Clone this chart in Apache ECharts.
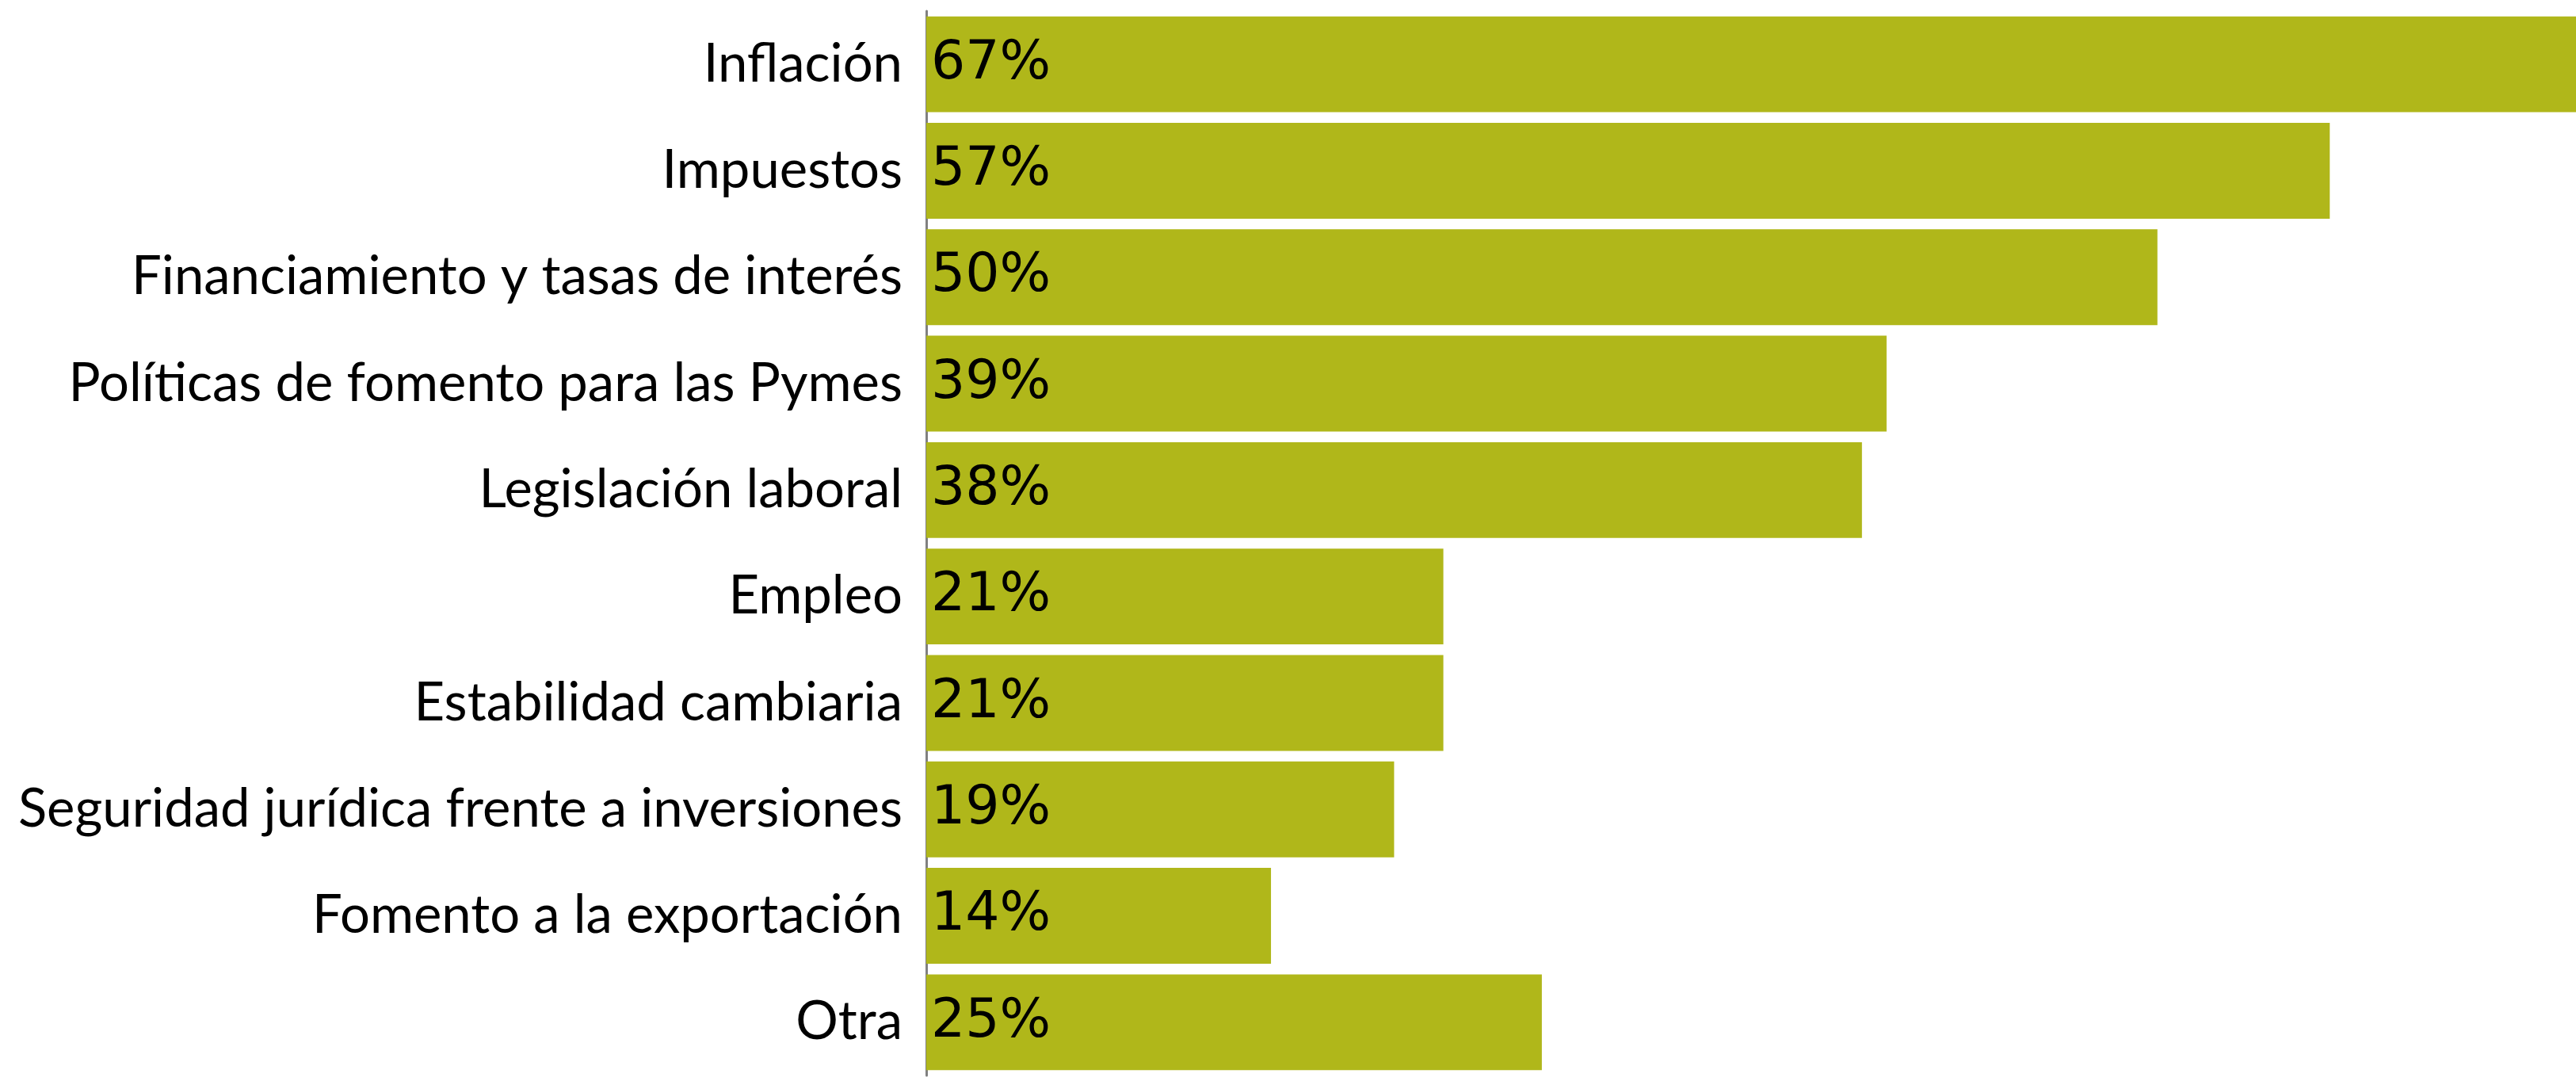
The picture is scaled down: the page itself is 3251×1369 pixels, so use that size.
<!DOCTYPE html>
<html>
<head>
<meta charset="utf-8">
<title>Chart</title>
<script src="https://cdn.jsdelivr.net/npm/echarts@6/dist/echarts.min.js"></script>
<style>
  html, body { margin: 0; padding: 0; background: #fff; }
  #chart { width: 3251px; height: 1369px; }
</style>
</head>
<body>
<div id="chart"></div>
<script>
var categories = [
    'Inflación',
    'Impuestos',
    'Financiamiento y tasas de interés',
    'Políticas de fomento para las Pymes',
    'Legislación laboral',
    'Empleo',
    'Estabilidad cambiaria',
    'Seguridad jurídica frente a inversiones',
    'Fomento a la exportación',
    'Otra'
];
var values = [67, 57, 50, 39, 38, 21, 21, 19, 14, 25];

var option = {
    animation: false,
    grid: {
        left: 1169,
        right: 0,
        top: 14,
        bottom: 12
    },
    xAxis: {
        type: 'value',
        min: 0,
        max: 67,
        show: false
    },
    yAxis: {
        type: 'category',
        inverse: true,
        data: categories,
        axisLine: { show: true, lineStyle: { color: '#808080', width: 3 } },
        axisTick: { show: false },
        axisLabel: {
            color: '#000',
            fontFamily: 'Lato',
            fontSize: 67,
            margin: 30
        }
    },
    series: [
        {
            type: 'bar',
            data: values,
            barCategoryGap: '10%',
            itemStyle: { color: '#B0B71A' },
            label: {
                show: true,
                position: 'insideLeft',
                distance: 6,
                formatter: '{c}%',
                color: '#000',
                fontFamily: 'DejaVu Sans',
                fontSize: 68
            }
        }
    ]
};

var myChart = echarts.init(document.getElementById('chart'));
myChart.setOption(option);
</script>
</body>
</html>
